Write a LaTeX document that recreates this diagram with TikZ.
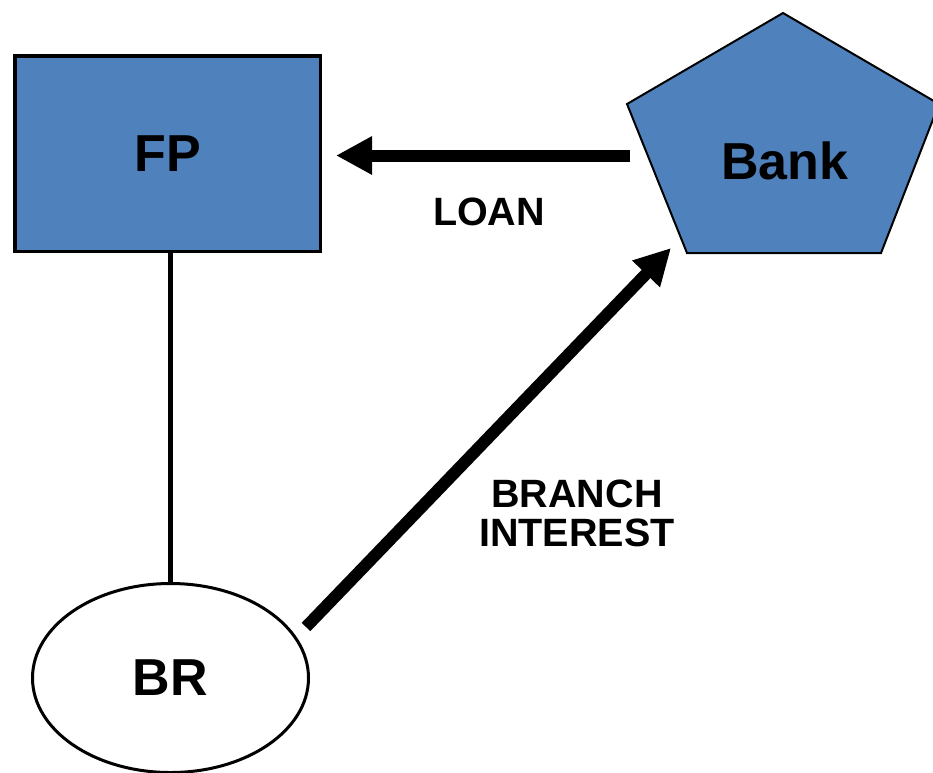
\documentclass[tikz,border=0pt]{standalone}
\usepackage{fontspec}
\setmainfont{Liberation Sans}
\usetikzlibrary{arrows.meta,shapes.geometric}
\definecolor{boxblue}{RGB}{79,129,189}
\begin{document}
\begin{tikzpicture}[x=1pt,y=-1pt,
  bigtext/.style={font=\fontsize{52}{56}\selectfont\bfseries},
  smalltext/.style={font=\fontsize{39.5}{39}\selectfont\bfseries, align=center},
  fpbox/.style={draw=black, line width=3.5pt, fill=boxblue, rectangle,
    minimum width=305.5pt, minimum height=195.5pt, inner sep=0pt, bigtext},
  brshape/.style={draw=black, line width=3pt, fill=white, ellipse,
    minimum width=276pt, minimum height=189pt, inner sep=0pt, bigtext},
  flow/.style={line width=12pt, -{Triangle[length=36pt,width=36pt]}},
  link/.style={line width=5pt}]
\useasboundingbox (0,0) rectangle (933,772);

% entities
\node[fpbox] (fp) at (167.5,153.5) {FP};
\node[brshape] (br) at (170.5,678) {BR};

% the bank pentagon and its label
\coordinate (pTop) at (783,13);
\coordinate (pUL) at (627,104);
\coordinate (pUR) at (939,104);
\coordinate (pBR) at (881,253);
\coordinate (pBL) at (687,253);
\draw[line width=2pt, fill=boxblue, line join=miter]
  (pTop) -- (pUR) -- (pBR) -- (pBL) -- (pUL) -- cycle;
\node[bigtext] (bank) at (785,161) {Bank};

% connector ends near the bank and the branch
\coordinate (loanTail) at (630,155.5);
\coordinate (loanHead) at (336,155.5);
\coordinate (intTail) at (306,627);
\coordinate (intHead) at (671,248);

% connectors
\draw[link] (br.north |- fp.south) -- (br.north);
\draw[flow] (loanTail) -- (loanHead);
\draw[flow] (intTail) -- (intHead);

% labels
\node[smalltext] (loan) at (489,212) {LOAN};
\node[smalltext] (interest) at (577,513) {BRANCH\\INTEREST};
\end{tikzpicture}
\end{document}
